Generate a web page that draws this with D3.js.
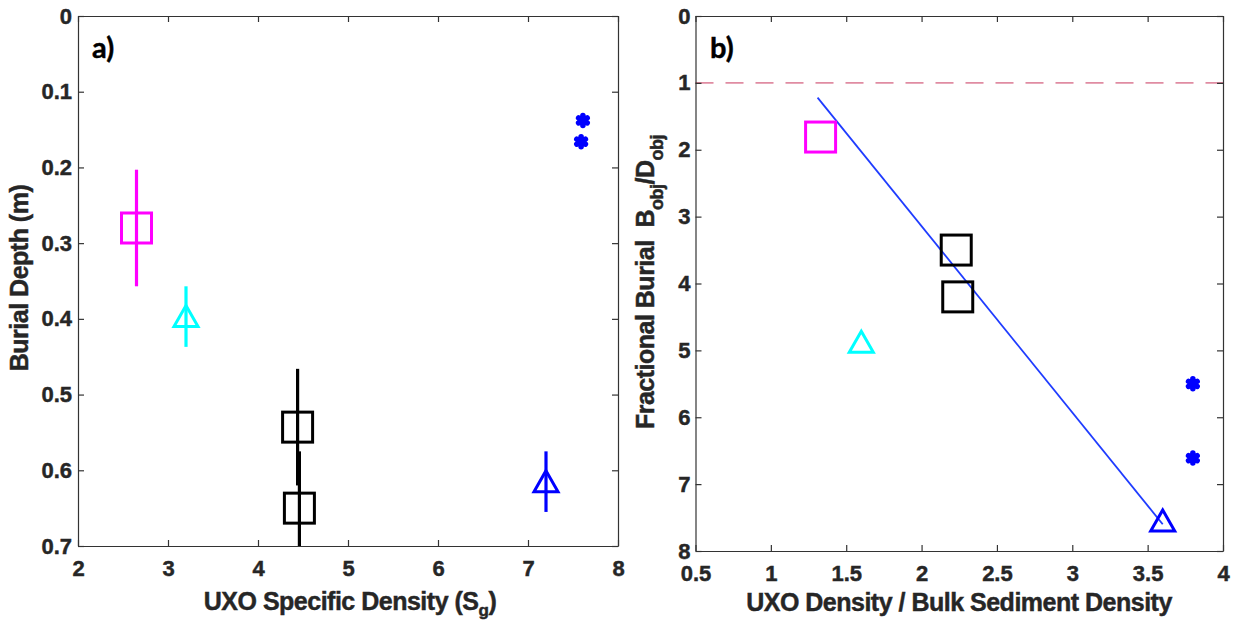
<!DOCTYPE html>
<html lang="en">
	<head>
		<meta charset="utf-8">
		<title>UXO Burial vs Density</title>
		<script src="https://d3js.org/d3.v7.min.js"></script>
		<style type="text/css">
			body { margin: 0; background: #fff; }
			text {
				font-family: "Liberation Sans", Arial, sans-serif;
				font-weight: bold;
				fill: #262626;
				stroke: #262626;
				stroke-width: 0.45px;
			}
			.tick text { font-size: 22px; }
			.axis-label { font-size: 25px; letter-spacing: -0.5px; }
			.panel-label { font-family: Lato, sans-serif; font-size: 29px; fill: #000; stroke: #000; }
			.domain, .tick line { stroke: #333; stroke-width: 1.2; }
		</style>
	</head>
	<body>
		<script type="text/javascript">
			var w = 1237;
			var h = 621;

			// Panel a) burial depth against UXO specific density
			var aGroup = ["g1", "g2", "g3", "g3", "g4", "g5", "g5"];
			var aDensity = [2.65, 3.2, 4.44, 4.46, 7.2, 7.61, 7.59];
			var aDepth = [0.28, 0.397, 0.543, 0.65, 0.615, 0.138, 0.166];
			var aDepthErr = [0.077, 0.04, 0.077, 0.075, 0.04, 0, 0];
			var aXTicks = [2, 3, 4, 5, 6, 7, 8];
			var aYTicks = [0, 0.1, 0.2, 0.3, 0.4, 0.5, 0.6, 0.7];

			// Panel b) fractional burial against density ratio
			var bGroup = ["g1", "g2", "g3", "g3", "g4", "g5", "g5"];
			var bRatio = [1.33, 1.6, 2.23, 2.24, 3.6, 3.8, 3.8];
			var bBurial = [1.81, 4.88, 3.5, 4.2, 7.55, 5.5, 6.61];
			var bFitX = [1.31, 3.6];
			var bFitY = [1.22, 7.6];
			var bRefLine = 1;
			var bXTicks = [0.5, 1, 1.5, 2, 2.5, 3, 3.5, 4];
			var bYTicks = [0, 1, 2, 3, 4, 5, 6, 7, 8];

			// marker style per group
			var style = {
				g1: { shape: "square", color: "#ff00ff" },
				g2: { shape: "triangle", color: "#00ffff" },
				g3: { shape: "square", color: "#000000" },
				g4: { shape: "triangle", color: "#0000ff" },
				g5: { shape: "asterisk", color: "#0000ff" }
			};

			var svg = d3.select("body")
						.append("svg")
						.attr("width", w)
						.attr("height", h);

			function drawAxes(g, x, y, xTicks, yTicks, yPad) {
				var x0 = x.range()[0], x1 = x.range()[1];
				var y0 = y.range()[0], y1 = y.range()[1];
				g.append("g")
					.attr("transform", "translate(0," + y1 + ")")
					.call(d3.axisBottom(x).tickValues(xTicks).tickFormat(String)
						.tickSize(-6).tickSizeOuter(0).tickPadding(14));
				g.append("g")
					.attr("transform", "translate(0," + y0 + ")")
					.call(d3.axisTop(x).tickValues(xTicks).tickFormat("")
						.tickSize(-6).tickSizeOuter(0));
				g.append("g")
					.attr("transform", "translate(" + x0 + ",0)")
					.call(d3.axisLeft(y).tickValues(yTicks).tickFormat(String)
						.tickSize(-6).tickSizeOuter(0).tickPadding(yPad));
				g.append("g")
					.attr("transform", "translate(" + x1 + ",0)")
					.call(d3.axisRight(y).tickValues(yTicks).tickFormat("")
						.tickSize(-6).tickSizeOuter(0));
				g.selectAll(".tick text").attr("fill", "#262626");
			}

			function drawMarkers(g, xs, ys, groups, x, y) {
				var pts = xs.map(function(d, i) {
					return { x: d, y: ys[i], s: style[groups[i]] };
				});
				pts.forEach(function(p) {
					var cx = x(p.x), cy = y(p.y);
					if (p.s.shape === "square") {
						g.append("rect")
							.attr("x", cx - 15).attr("y", cy - 15)
							.attr("width", 30).attr("height", 30)
							.attr("fill", "none")
							.attr("stroke", p.s.color)
							.attr("stroke-width", 3);
					} else if (p.s.shape === "triangle") {
						g.append("path")
							.attr("d", "M" + cx + "," + (cy - 11) +
								"L" + (cx + 12) + "," + (cy + 10) +
								"L" + (cx - 12) + "," + (cy + 10) + "Z")
							.attr("fill", "none")
							.attr("stroke", p.s.color)
							.attr("stroke-width", 3);
					} else {
						g.append("path")
							.attr("transform", "translate(" + cx + "," + cy + ")")
							.attr("d", d3.symbol(d3.symbolAsterisk, 70)())
							.attr("fill", "none")
							.attr("stroke", p.s.color)
							.attr("stroke-linecap", "round")
							.attr("stroke-width", 5.5);
					}
				});
			}

			// ---- panel a ----
			var xa = d3.scaleLinear().domain([2, 8]).range([78, 618]);
			var ya = d3.scaleLinear().domain([0, 0.7]).range([16, 546]);

			svg.append("clipPath").attr("id", "clipA")
				.append("rect").attr("x", 78).attr("y", 16)
				.attr("width", 540).attr("height", 530);

			var ga = svg.append("g");
			drawAxes(ga, xa, ya, aXTicks, aYTicks, 6);

			var barsA = ga.append("g").attr("clip-path", "url(#clipA)");
			aDensity.forEach(function(d, i) {
				if (aDepthErr[i] > 0) {
					barsA.append("line")
						.attr("x1", xa(d)).attr("x2", xa(d))
						.attr("y1", ya(aDepth[i] - aDepthErr[i]))
						.attr("y2", ya(aDepth[i] + aDepthErr[i]))
						.attr("stroke", style[aGroup[i]].color)
						.attr("stroke-width", 3.2);
				}
			});
			drawMarkers(ga, aDensity, aDepth, aGroup, xa, ya);

			ga.append("text").attr("class", "panel-label")
				.attr("x", 92).attr("y", 58).text("a)");

			ga.append("text")
				.attr("class", "axis-label")
				.attr("transform", "translate(28,278) rotate(-90)")
				.attr("text-anchor", "middle")
				.text("Burial Depth (m)");

			var xla = ga.append("text")
				.attr("class", "axis-label")
				.attr("x", 350).attr("y", 610)
				.attr("text-anchor", "middle");
			xla.append("tspan").text("UXO Specific Density (S");
			xla.append("tspan").attr("dy", 6).attr("font-size", "17px").text("g");
			xla.append("tspan").attr("dy", -6).text(")");

			// ---- panel b ----
			var xb = d3.scaleLinear().domain([0.5, 4]).range([695.5, 1223]);
			var yb = d3.scaleLinear().domain([0, 8]).range([16, 551]);

			var gb = svg.append("g");

			gb.append("line")
				.attr("x1", xb(0.5)).attr("x2", xb(4))
				.attr("y1", yb(bRefLine)).attr("y2", yb(bRefLine))
				.attr("stroke", "#e08ca2")
				.attr("stroke-width", 1.6)
				.attr("stroke-dasharray", "18,12");

			drawAxes(gb, xb, yb, bXTicks, bYTicks, 5);

			gb.append("line")
				.attr("x1", xb(bFitX[0])).attr("y1", yb(bFitY[0]))
				.attr("x2", xb(bFitX[1])).attr("y2", yb(bFitY[1]))
				.attr("stroke", "#1f3cff")
				.attr("stroke-width", 1.8);

			drawMarkers(gb, bRatio, bBurial, bGroup, xb, yb);

			gb.append("text").attr("class", "panel-label")
				.attr("x", 710).attr("y", 58).text("b)");

			var yl = gb.append("text")
				.attr("class", "axis-label")
				.attr("transform", "translate(654,282) rotate(-90)")
				.attr("text-anchor", "middle");
			yl.append("tspan").text("Fractional Burial\u00a0\u00a0B");
			yl.append("tspan").attr("dy", 9).attr("font-size", "18px").text("obj");
			yl.append("tspan").attr("dy", -9).text("/D");
			yl.append("tspan").attr("dy", 9).attr("font-size", "18px").text("obj");

			gb.append("text")
				.attr("class", "axis-label")
				.attr("x", 959).attr("y", 611)
				.attr("text-anchor", "middle")
				.text("UXO Density / Bulk Sediment Density");
		</script>
	</body>
</html>
